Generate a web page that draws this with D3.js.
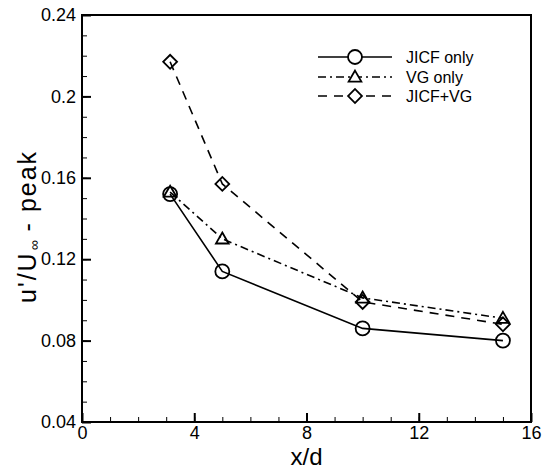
<!DOCTYPE html>
<html>
<head>
<meta charset="utf-8">
<script src="https://cdn.jsdelivr.net/npm/d3@7"></script>
<style>
  html, body { margin: 0; padding: 0; background: #fff; }
  svg { display: block; font-family: "Liberation Sans", Arial, sans-serif; }
</style>
</head>
<body>
<svg id="chart" width="550" height="475"></svg>
<script>
// Streamwise stations x/d
const stations = [3.14, 5, 10, 15];
// Peak u'/U∞ for each configuration
const jicfOnly = [0.152, 0.114, 0.086, 0.080];
const vgOnly = [0.153, 0.130, 0.101, 0.091];
const jicfVg = [0.217, 0.157, 0.099, 0.088];
const seriesNames = ["JICF only", "VG only", "JICF+VG"];
const xTicks = [0, 4, 8, 12, 16];
const yTicks = [0.04, 0.08, 0.12, 0.16, 0.2, 0.24];

const svg = d3.select("#chart");
const plotLeft = 82, plotRight = 531, plotTop = 15, plotBottom = 422;

const x = d3.scaleLinear().domain([0, 16]).range([plotLeft, plotRight]);
const y = d3.scaleLinear().domain([0.04, 0.24]).range([plotBottom, plotTop]);

// Minor ticks (inward)
svg.append("g")
  .attr("transform", `translate(0,${plotBottom})`)
  .call(d3.axisBottom(x).tickValues(d3.range(0, 17, 1)).tickSize(-5).tickFormat(""))
  .call(g => g.select(".domain").remove())
  .call(g => g.selectAll("line").attr("stroke-width", 1));
svg.append("g")
  .attr("transform", `translate(${plotLeft},0)`)
  .call(d3.axisLeft(y).tickValues(d3.range(4, 25, 1).map(v => v / 100)).tickSize(-5).tickFormat(""))
  .call(g => g.select(".domain").remove())
  .call(g => g.selectAll("line").attr("stroke-width", 1));

// Major ticks and labels
svg.append("g")
  .attr("transform", `translate(0,${plotBottom})`)
  .call(d3.axisBottom(x).tickValues(xTicks).tickSize(-9).tickPadding(4).tickFormat(d3.format("d")))
  .call(g => g.select(".domain").remove())
  .call(g => g.selectAll("line").attr("stroke-width", 2))
  .call(g => g.selectAll("text").attr("font-size", 18).attr("fill", "#000")
    .attr("font-family", "'Liberation Sans', Arial, sans-serif"));
svg.append("g")
  .attr("transform", `translate(${plotLeft},0)`)
  .call(d3.axisLeft(y).tickValues(yTicks).tickSize(-9).tickPadding(6).tickFormat(d => String(+d.toFixed(2))))
  .call(g => g.select(".domain").remove())
  .call(g => g.selectAll("line").attr("stroke-width", 2))
  .call(g => g.selectAll("text").attr("font-size", 18).attr("fill", "#000")
    .attr("font-family", "'Liberation Sans', Arial, sans-serif"));

// Frame
svg.append("rect")
  .attr("x", plotLeft).attr("y", plotTop)
  .attr("width", plotRight - plotLeft).attr("height", plotBottom - plotTop)
  .attr("fill", "none").attr("stroke", "#000").attr("stroke-width", 2);

// Series definitions
const styles = [
  { values: jicfOnly, dash: null, marker: "circle" },
  { values: vgOnly, dash: "8,4,2,4", marker: "triangle" },
  { values: jicfVg, dash: "9,7", marker: "diamond" }
];

function drawMarker(sel, type, cx, cy) {
  if (type === "circle") {
    sel.append("circle").attr("cx", cx).attr("cy", cy).attr("r", 7);
  } else if (type === "triangle") {
    sel.append("path").attr("transform", `translate(${cx},${cy + 1})`)
      .attr("d", d3.symbol(d3.symbolTriangle, 70)());
  } else {
    sel.append("path").attr("transform", `translate(${cx},${cy}) rotate(45)`)
      .attr("d", d3.symbol(d3.symbolSquare, 96)());
  }
}

const line = d3.line().x(d => x(d[0])).y(d => y(d[1]));

styles.forEach(s => {
  const pts = stations.map((xv, i) => [xv, s.values[i]]);
  svg.append("path")
    .attr("d", line(pts))
    .attr("fill", "none").attr("stroke", "#000").attr("stroke-width", 1.6)
    .attr("stroke-dasharray", s.dash);
  const mg = svg.append("g").attr("fill", "none").attr("stroke", "#000").attr("stroke-width", 1.8);
  pts.forEach(p => drawMarker(mg, s.marker, x(p[0]), y(p[1])));
});

// Legend
const legRows = [57, 77, 96];
styles.forEach((s, i) => {
  const ly = legRows[i];
  svg.append("line")
    .attr("x1", 318).attr("x2", 392).attr("y1", ly).attr("y2", ly)
    .attr("stroke", "#000").attr("stroke-width", 1.6)
    .attr("stroke-dasharray", s.dash);
  const mg = svg.append("g").attr("fill", "#fff").attr("stroke", "#000").attr("stroke-width", 1.8);
  drawMarker(mg, s.marker, 355, ly);
  svg.append("text")
    .attr("x", 406).attr("y", ly).attr("dy", "0.35em")
    .attr("font-size", 16).attr("fill", "#000")
    .text(seriesNames[i]);
});

// Axis titles
svg.append("text")
  .attr("x", (plotLeft + plotRight) / 2).attr("y", 465)
  .attr("text-anchor", "middle").attr("font-size", 24).attr("fill", "#000")
  .text("x/d");

const yt = svg.append("text")
  .attr("transform", "translate(36,303) rotate(-90)")
  .attr("text-anchor", "start").attr("fill", "#000")
  .attr("letter-spacing", 2);
yt.append("tspan").attr("font-size", 25).text("u'/U");
yt.append("tspan").attr("font-size", 14).attr("dy", 3).attr("dx", 1).attr("letter-spacing", 0).text("∞");
yt.append("tspan").attr("font-size", 25).attr("dy", -3).text(" - peak");
</script>
</body>
</html>
